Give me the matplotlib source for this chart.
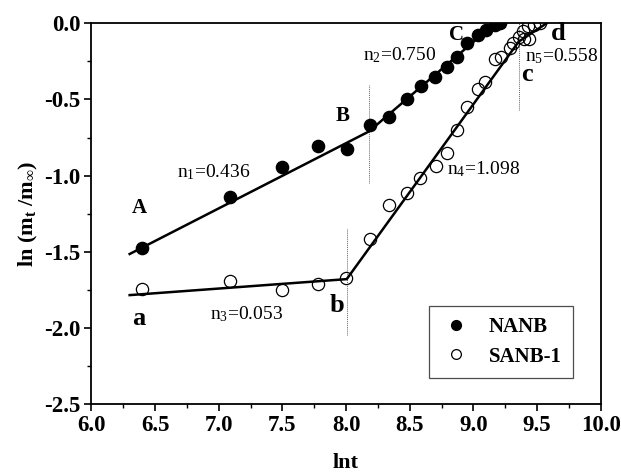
import numpy as np
import matplotlib
matplotlib.use("Agg")
import matplotlib.pyplot as plt

plt.rcParams['font.family'] = ['Liberation Serif', 'DejaVu Serif']
plt.rcParams['mathtext.fontset'] = 'custom'
plt.rcParams['mathtext.rm'] = 'Liberation Serif'
plt.rcParams['mathtext.it'] = 'Liberation Serif:italic'
plt.rcParams['mathtext.bf'] = 'Liberation Serif:bold'

# NANB (filled)
nanb_x = [6.40, 7.09, 7.50, 7.78, 8.005, 8.19, 8.34, 8.48, 8.59, 8.70,
          8.79, 8.87, 8.95, 9.04, 9.10, 9.17, 9.21]
nanb_y = [-1.473, -1.139, -0.945, -0.805, -0.827, -0.668, -0.617, -0.50, -0.41, -0.353,
          -0.285, -0.223, -0.131, -0.077, -0.044, -0.011, 0.005]

# SANB-1 (open)
sanb_x = [6.40, 7.09, 7.50, 7.78, 8.00, 8.19, 8.34, 8.476, 8.58, 8.71,
          8.79, 8.87, 8.95, 9.04, 9.09, 9.17, 9.22, 9.285, 9.31, 9.36,
          9.40, 9.44, 9.39, 9.43, 9.48, 9.52]
sanb_y = [-1.747, -1.692, -1.751, -1.714, -1.674, -1.416, -1.193, -1.116, -1.018, -0.94,
          -0.854, -0.70, -0.548, -0.43, -0.385, -0.235, -0.219, -0.16, -0.13, -0.09,
          -0.10, -0.10, -0.05, -0.02, -0.01, 0.0]

# fitted segments (vertices)
fit_nanb_x = [6.30, 8.18, 9.17]
fit_nanb_y = [-1.515, -0.71, 0.0]
fit_sanb_x = [6.30, 8.005, 9.356, 9.575]
fit_sanb_y = [-1.785, -1.68, -0.12, 0.0]

# dotted break markers
vline_x = [8.18, 8.005, 9.356]
vline_lo = [-1.047, -2.046, -0.57]
vline_hi = [-0.405, -1.344, 0.0]

slope_labels = [r'n$_1$=0.436', r'n$_2$=0.750', r'n$_3$=0.053', r'n$_4$=1.098', r'n$_5$=0.558']
slope_pos = [(6.96, -0.98), (8.42, -0.21), (7.22, -1.91), (9.08, -0.96), (9.69, -0.215)]
point_labels = ['A', 'B', 'C', 'a', 'b', 'c', 'd']
point_pos = [(6.375, -1.21), (7.97, -0.61), (8.87, -0.077), (6.37, -1.94), (7.93, -1.85),
             (9.42, -0.335), (9.67, -0.068)]

fig = plt.figure(figsize=(6.21, 4.72), dpi=100)
ax = fig.add_axes([0.1473, 0.1441, 0.82, 0.8065])

ax.plot(fit_nanb_x, fit_nanb_y, color='k', lw=1.8, zorder=2)
ax.plot(fit_sanb_x, fit_sanb_y, color='k', lw=1.8, zorder=2)
for x, lo, hi in zip(vline_x, vline_lo, vline_hi):
    ax.plot([x, x], [lo, hi], color='0.4', lw=0.7, ls=(0, (1, 1)), zorder=1)

ax.plot(nanb_x, nanb_y, 'o', ms=8.8, mfc='k', mec='k', label='NANB', zorder=3)
ax.plot(sanb_x, sanb_y, 'o', ms=8.8, mfc='none', mec='k', mew=0.9, label='SANB-1', zorder=3)

for t, (x, y) in zip(slope_labels, slope_pos):
    ax.text(x, y, t, fontsize=14, ha='center', va='center')
for t, (x, y) in zip(point_labels, point_pos):
    fs = 15 if t.isupper() else 19
    ax.text(x, y, t, fontsize=fs, fontweight='bold', ha='center', va='center')

ax.set_xlim(6.0, 10.0)
ax.set_ylim(-2.5, 0.0)
ax.set_xticks(np.arange(6.0, 10.01, 0.5))
ax.set_yticks(np.arange(-2.5, 0.01, 0.5))
ax.set_xticks(np.arange(6.25, 10.0, 0.5), minor=True)
ax.set_yticks(np.arange(-2.25, 0.0, 0.5), minor=True)
ax.xaxis.set_major_formatter(matplotlib.ticker.FormatStrFormatter('%.1f'))
ax.yaxis.set_major_formatter(matplotlib.ticker.FormatStrFormatter('%.1f'))
ax.tick_params(which='major', direction='out', length=5, width=1.2, labelsize=16.5, pad=3)
ax.tick_params(which='minor', direction='out', length=3, width=1.0)
for lab in ax.get_xticklabels() + ax.get_yticklabels():
    lab.set_fontweight('bold')
for s in ax.spines.values():
    s.set_linewidth(1.3)

ax.set_xlabel('lnt', fontsize=16, fontweight='bold', labelpad=12)
ax.set_ylabel(r'ln (m$_{\mathbf{t}}$ /m$_{\infty}$)', fontsize=16, fontweight='bold', labelpad=3)

leg = ax.legend(loc='lower right', bbox_to_anchor=(0.946, 0.068), borderaxespad=0,
                prop={'weight': 'bold', 'size': 15}, fancybox=False, edgecolor='0.3',
                framealpha=1, handlelength=1.4, handletextpad=0.9, markerscale=0.8,
                borderpad=0.55, labelspacing=0.45)
leg.get_frame().set_linewidth(0.9)

fig.savefig('out.png', dpi=100)
